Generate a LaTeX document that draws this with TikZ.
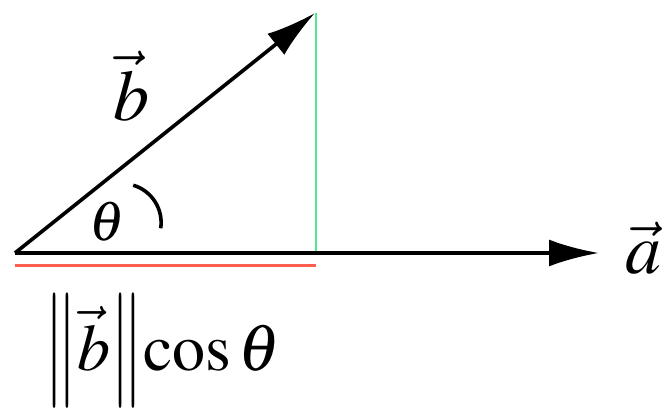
\documentclass[tikz,border=0pt]{standalone}
\usepackage{mathptmx}
\usepackage{graphicx}
\usetikzlibrary{arrows.meta}
\newcommand{\tallnorm}{\mathord{\raisebox{-9pt}{\scalebox{1}[1.75]{$\|$}}}}
\tikzset{
  vecline/.style={line width=3.6pt, -{Latex[length=50pt,width=27pt]}},
  big/.style={inner sep=0pt, font=\fontsize{72}{80}\selectfont},
  proj/.style={inner sep=0pt, font=\fontsize{66}{72}\selectfont},
  mid/.style={inner sep=0pt, font=\fontsize{56}{60}\selectfont}
}
\begin{document}
\begin{tikzpicture}[x=1pt,y=-1pt]
\useasboundingbox (0,0) rectangle (664,409);
\coordinate (O) at (15,253);
\coordinate (A) at (599,253);
\coordinate (B) at (315,13);
\coordinate (G) at (316,13);
\coordinate (F) at (316,253);
\coordinate (Rs) at (15,265);
\coordinate (Re) at (316,265);
\coordinate (Arc) at (160.7,228.3);
% green projection line
\draw[line width=2.6pt, color={rgb,255:red,80;green,230;blue,140}] (G) -- (F);
% red projection segment
\draw[line width=3pt, color={rgb,255:red,255;green,95;blue,80}] (Rs) -- (Re);
% vectors
\draw[vecline] (O) -- (A);
\draw[vecline] (O) -- (B);
% angle arc
\draw[line width=3.6pt] (Arc) arc[start angle=8.4, end angle=-73.5, radius=39];
% labels
\node[big] (la) at (643,248) {$\vec{a}$};
\node[big] (lb) at (131,86) {$\vec{b}$};
\node[mid] (th) at (107,222) {$\theta$};
\node[proj, anchor=base west] (pj) at (44,370) {$\tallnorm\vec{b}\tallnorm\mathrm{cos}\,\theta$};
\end{tikzpicture}
\end{document}
